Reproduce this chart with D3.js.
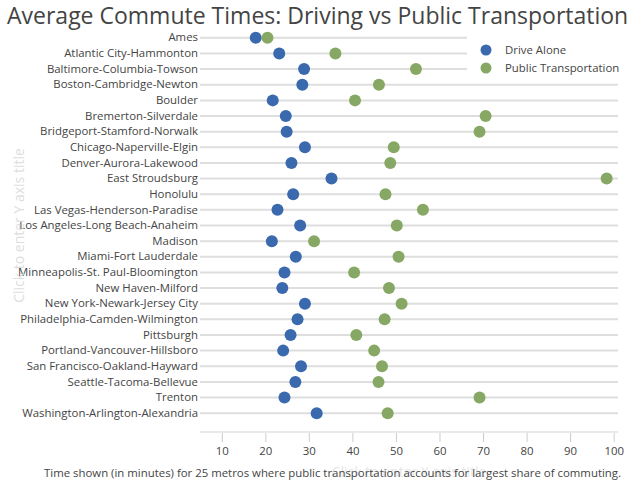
<!DOCTYPE html>
<html>
<head>
    <meta charset="utf-8">
    <style>
        body { margin: 0; background: #fff; }
        svg { font-family: 'Open Sans', sans-serif; }
    </style>
</head>
<body>
<svg width="640" height="493"></svg>
<script src="https://d3js.org/d3.v7.min.js"></script>
<script>
    // metros, top to bottom
    let metros = ["Ames", "Atlantic City-Hammonton", "Baltimore-Columbia-Towson", "Boston-Cambridge-Newton",
        "Boulder", "Bremerton-Silverdale", "Bridgeport-Stamford-Norwalk", "Chicago-Naperville-Elgin",
        "Denver-Aurora-Lakewood", "East Stroudsburg", "Honolulu", "Las Vegas-Henderson-Paradise",
        "Los Angeles-Long Beach-Anaheim", "Madison", "Miami-Fort Lauderdale", "Minneapolis-St. Paul-Bloomington",
        "New Haven-Milford", "New York-Newark-Jersey City", "Philadelphia-Camden-Wilmington", "Pittsburgh",
        "Portland-Vancouver-Hillsboro", "San Francisco-Oakland-Hayward", "Seattle-Tacoma-Bellevue", "Trenton",
        "Washington-Arlington-Alexandria"]

    // minutes
    let driveAlone = [17.8, 23.2, 28.9, 28.5, 21.7, 24.7, 24.9, 29.1, 26.0, 35.2, 26.4, 22.8, 28.0,
        21.5, 27.0, 24.4, 23.9, 29.1, 27.4, 25.8, 24.1, 28.2, 26.9, 24.4, 31.8]
    let publicTransport = [20.5, 36.1, 54.6, 46.1, 40.6, 70.6, 69.2, 49.5, 48.7, 98.4, 47.6, 56.2, 50.2,
        31.2, 50.6, 40.4, 48.4, 51.3, 47.4, 40.9, 45.0, 46.8, 46.0, 69.2, 48.1]

    let xTicks = [10, 20, 30, 40, 50, 60, 70, 80, 90, 100]
    let seriesNames = ["Drive Alone", "Public Transportation"]
    let colors = ["#3a69ae", "#87a864"]

    let svg = d3.select("svg")
    let margin = { top: 30, right: 22, bottom: 72, left: 200 }
    let width = 640, height = 493
    let fs = "11.4px"

    let x = d3.scaleLinear()
        .domain([5, 101])
        .range([margin.left, width - margin.right])

    let y = d3.scaleBand()
        .domain(metros)
        .range([margin.top, height - margin.bottom])

    let yc = d => y(d) + y.bandwidth() / 2

    // grid lines per metro
    svg.append("g")
        .selectAll("line")
        .data(metros)
        .join("line")
        .attr("x1", x.range()[0])
        .attr("x2", x.range()[1])
        .attr("y1", d => yc(d))
        .attr("y2", d => yc(d))
        .style("stroke", "#dedede")
        .style("stroke-width", "2px")

    // x axis
    let xAxis = svg.append("g")
        .attr("transform", "translate(0,432)")
        .call(d3.axisBottom(x).tickValues(xTicks).tickSize(10).tickPadding(5).tickSizeOuter(0))
    xAxis.select(".domain").style("stroke", "#e2e2e2").style("stroke-width", "1.5px")
        .attr("d", `M${x.range()[0]},0H${x.range()[1]}`)
    xAxis.selectAll(".tick line").style("stroke", "#ccc").attr("y1", 1)
    xAxis.selectAll(".tick text").style("font-size", fs).style("fill", "#444")
        .style("font-family", "'Open Sans', sans-serif")

    // y labels
    let yAxis = svg.append("g")
        .attr("transform", `translate(${margin.left - 2},0)`)
        .call(d3.axisLeft(y).tickSize(0).tickPadding(0))
    yAxis.select(".domain").remove()
    yAxis.selectAll(".tick text").style("font-size", fs).style("fill", "#444")
        .style("font-family", "'Open Sans', sans-serif")

    // dots
    let rows = metros.map((m, i) => ({ m: m, a: driveAlone[i], b: publicTransport[i] }))

    svg.append("g").selectAll("circle")
        .data(rows)
        .join("circle")
        .attr("cx", d => x(d.a))
        .attr("cy", d => yc(d.m))
        .attr("r", 6)
        .attr("fill", colors[0])

    svg.append("g").selectAll("circle")
        .data(rows)
        .join("circle")
        .attr("cx", d => x(d.b))
        .attr("cy", d => yc(d.m))
        .attr("r", 6)
        .attr("fill", colors[1])

    // legend with white background
    let legend = svg.append("g")
    legend.append("rect")
        .attr("x", 467).attr("y", 30)
        .attr("width", 173).attr("height", 47)
        .attr("fill", "#fff")
    seriesNames.forEach((s, i) => {
        legend.append("circle")
            .attr("cx", 486).attr("cy", 50 + i * 18)
            .attr("r", 5.5)
            .attr("fill", colors[i])
        legend.append("text")
            .attr("x", 505).attr("y", 50 + i * 18)
            .attr("dy", "0.35em")
            .style("font-size", fs)
            .style("fill", "#444")
            .text(s)
    })

    // title
    svg.append("text")
        .attr("x", 7).attr("y", 24)
        .style("font-size", "23px")
        .style("fill", "#444")
        .text("Average Commute Times: Driving vs Public Transportation")

    // placeholder axis titles
    svg.append("text")
        .attr("transform", `translate(24,${(margin.top + height - margin.bottom) / 2}) rotate(-90)`)
        .style("text-anchor", "middle")
        .style("font-size", "14px")
        .style("fill", "#dedede")
        .text("Click to enter Y axis title")

    svg.append("text")
        .attr("x", (x.range()[0] + x.range()[1]) / 2).attr("y", 477)
        .style("text-anchor", "middle")
        .style("font-size", "14px")
        .style("fill", "#e6e6e6")
        .text("Click to enter X axis title")

    // caption
    svg.append("text")
        .attr("x", 621).attr("y", 477)
        .style("text-anchor", "end")
        .style("font-size", fs)
        .style("fill", "#444")
        .text("Time shown (in minutes) for 25 metros where public transportation accounts for largest share of commuting.")
</script>
</body>
</html>
